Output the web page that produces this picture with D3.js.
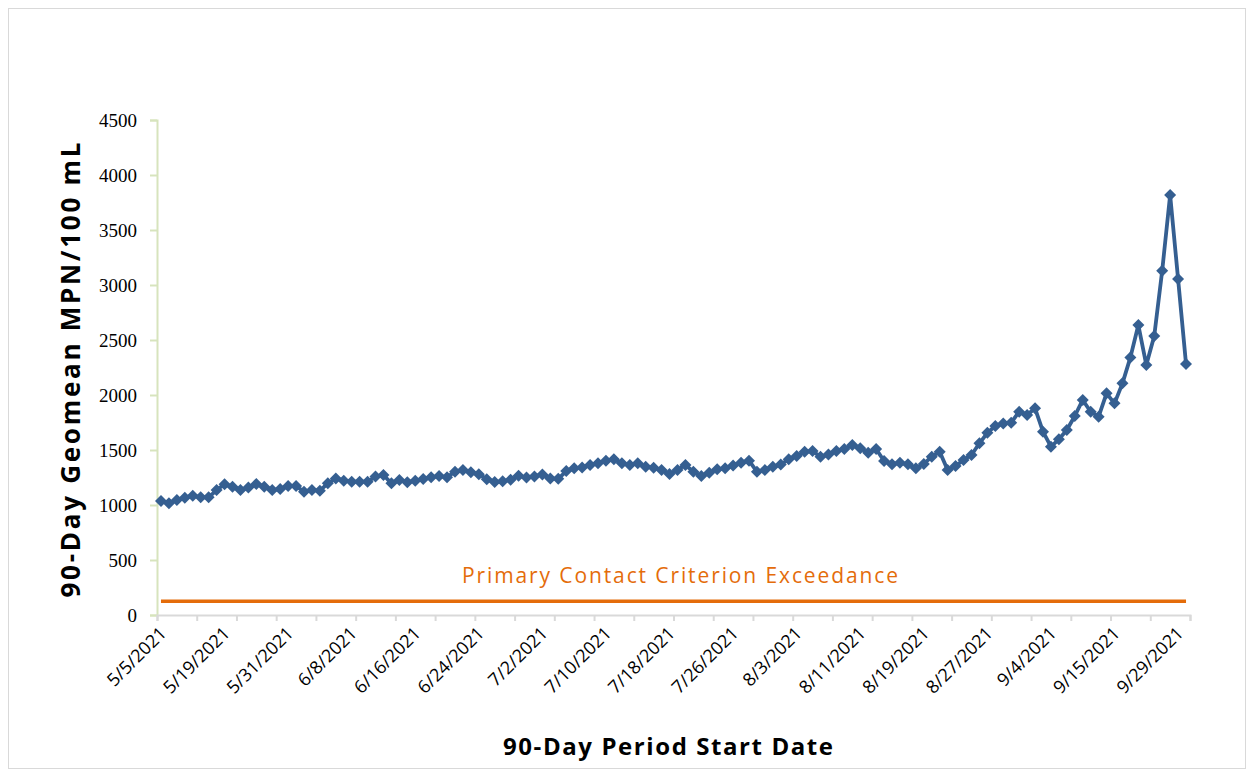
<!DOCTYPE html>
<html>
<head>
<meta charset="utf-8">
<script src="https://cdn.jsdelivr.net/npm/d3@7"></script>
<style>
  body { margin: 0; background: #fff; }
</style>
</head>
<body>
<script>
// category dates (90-day period start dates)
var categories = [
  "5/5/2021","5/6/2021","5/10/2021","5/11/2021","5/12/2021","5/13/2021","5/17/2021","5/18/2021",
  "5/19/2021","5/20/2021","5/21/2021","5/24/2021","5/25/2021","5/26/2021","5/27/2021","5/28/2021",
  "5/31/2021","6/1/2021","6/2/2021","6/3/2021","6/4/2021","6/5/2021","6/6/2021","6/7/2021",
  "6/8/2021","6/9/2021","6/10/2021","6/11/2021","6/12/2021","6/13/2021","6/14/2021","6/15/2021",
  "6/16/2021","6/17/2021","6/18/2021","6/19/2021","6/20/2021","6/21/2021","6/22/2021","6/23/2021",
  "6/24/2021","6/25/2021","6/26/2021","6/27/2021","6/28/2021","6/29/2021","6/30/2021","7/1/2021",
  "7/2/2021","7/3/2021","7/4/2021","7/5/2021","7/6/2021","7/7/2021","7/8/2021","7/9/2021",
  "7/10/2021","7/11/2021","7/12/2021","7/13/2021","7/14/2021","7/15/2021","7/16/2021","7/17/2021",
  "7/18/2021","7/19/2021","7/20/2021","7/21/2021","7/22/2021","7/23/2021","7/24/2021","7/25/2021",
  "7/26/2021","7/27/2021","7/28/2021","7/29/2021","7/30/2021","7/31/2021","8/1/2021","8/2/2021",
  "8/3/2021","8/4/2021","8/5/2021","8/6/2021","8/7/2021","8/8/2021","8/9/2021","8/10/2021",
  "8/11/2021","8/12/2021","8/13/2021","8/14/2021","8/15/2021","8/16/2021","8/17/2021","8/18/2021",
  "8/19/2021","8/20/2021","8/21/2021","8/22/2021","8/23/2021","8/24/2021","8/25/2021","8/26/2021",
  "8/27/2021","8/28/2021","8/29/2021","8/30/2021","8/31/2021","9/1/2021","9/2/2021","9/3/2021",
  "9/4/2021","9/5/2021","9/7/2021","9/8/2021","9/9/2021","9/10/2021","9/13/2021","9/14/2021",
  "9/15/2021","9/16/2021","9/20/2021","9/21/2021","9/22/2021","9/23/2021","9/27/2021","9/28/2021",
  "9/29/2021","9/30/2021"
];

// 90-day geomean, MPN/100 mL
var geomean = [
  1036,1015,1045,1067,1085,1070,1070,1136,1188,1167,1136,1158,1191,1167,1136,1145,
  1173,1173,1121,1136,1130,1197,1242,1221,1212,1212,1212,1258,1273,1197,1227,1206,
  1221,1236,1252,1264,1252,1303,1318,1297,1280,1235,1208,1215,1230,1265,1250,1260,
  1278,1242,1238,1308,1333,1342,1364,1379,1403,1415,1379,1364,1379,1348,1339,1318,
  1282,1318,1364,1303,1264,1294,1324,1333,1358,1385,1403,1303,1318,1348,1368,1416,
  1445,1483,1490,1439,1458,1491,1509,1545,1515,1476,1509,1400,1370,1385,1370,1333,
  1373,1439,1485,1318,1355,1409,1455,1561,1656,1718,1742,1748,1848,1818,1879,1667,
  1530,1597,1682,1809,1955,1848,1803,2015,1924,2106,2342,2636,2273,2536,3130,3818,
  3055,2282
];

var criterion = 126;

var tickLabels = ["5/5/2021","5/19/2021","5/31/2021","6/8/2021","6/16/2021","6/24/2021",
  "7/2/2021","7/10/2021","7/18/2021","7/26/2021","8/3/2021","8/11/2021","8/19/2021",
  "8/27/2021","9/4/2021","9/15/2021","9/29/2021"];

var yTicks = [0,500,1000,1500,2000,2500,3000,3500,4000,4500];

var width = 1253, height = 774;
var plotLeft = 157, plotRight = 1190, plotTop = 120, plotBottom = 615;

var svg = d3.select("body").append("svg")
    .attr("width", width)
    .attr("height", height);

// outer frame
svg.append("rect")
    .attr("x", 8.5).attr("y", 8.5)
    .attr("width", 1237).attr("height", 760)
    .attr("fill", "none")
    .attr("stroke", "#d9d9d9");

var x = d3.scaleBand().domain(categories).range([plotLeft, plotRight]);
var cx = function(d) { return x(d) + x.bandwidth() / 2; };
var y = d3.scaleLinear().domain([0, 4500]).range([plotBottom, plotTop]);

// y axis
var yAxis = svg.append("g")
    .attr("transform", "translate(" + plotLeft + ",0)")
    .call(d3.axisLeft(y).tickValues(yTicks).tickFormat(d3.format("d")).tickSize(7).tickPadding(13));
yAxis.select(".domain").attr("stroke", "#d7e4bd").attr("stroke-width", 2);
yAxis.selectAll(".tick line").attr("stroke", "#d7e4bd").attr("stroke-width", 2);
yAxis.selectAll("text")
    .attr("font-family", "'Liberation Serif', 'Times New Roman', serif")
    .attr("font-size", 19)
    .attr("fill", "#000");

// x axis tick marks, one every 5 categories on the category edges
var xEdge = d3.scaleLinear().domain([0, categories.length]).range([plotLeft, plotRight]);
var xTicks = svg.append("g")
    .attr("transform", "translate(0," + plotBottom + ")")
    .call(d3.axisBottom(xEdge).tickValues(d3.range(0, categories.length + 1, 5)).tickSize(6).tickFormat(""));
xTicks.select(".domain").attr("stroke", "#d9d9d9").attr("stroke-width", 2);
xTicks.selectAll(".tick line").attr("stroke", "#d9d9d9").attr("stroke-width", 2);

// x axis labels
var xLab = svg.append("g")
    .attr("transform", "translate(0," + plotBottom + ")")
    .call(d3.axisBottom(x).tickValues(tickLabels).tickSize(0));
xLab.select(".domain").remove();
xLab.selectAll("text")
    .attr("font-family", "'Open Sans', sans-serif")
    .attr("font-size", 18)
    .attr("fill", "#000")
    .attr("text-anchor", "end")
    .attr("y", 0).attr("dy", "0.35em")
    .attr("transform", "translate(2,15) rotate(-45)");

// criterion line
svg.append("line")
    .attr("x1", cx(categories[0]))
    .attr("x2", cx(categories[categories.length - 1]))
    .attr("y1", y(criterion))
    .attr("y2", y(criterion))
    .attr("stroke", "#e46c0a")
    .attr("stroke-width", 3.5);

svg.append("text")
    .attr("x", 680).attr("y", 583)
    .attr("text-anchor", "middle")
    .attr("font-family", "'Open Sans', sans-serif")
    .attr("font-size", 21)
    .attr("textLength", 436)
    .attr("lengthAdjust", "spacing")
    .attr("fill", "#e46c0a")
    .text("Primary Contact Criterion Exceedance");

// data line
var line = d3.line()
    .x(function(d, i) { return cx(categories[i]); })
    .y(function(d) { return y(d); });

svg.append("path")
    .datum(geomean)
    .attr("fill", "none")
    .attr("stroke", "#355f91")
    .attr("stroke-width", 3.8)
    .attr("stroke-linejoin", "round")
    .attr("d", line);

svg.selectAll(".marker")
    .data(geomean)
    .enter().append("path")
    .attr("class", "marker")
    .attr("d", d3.symbol(d3.symbolSquare, 72))
    .attr("fill", "#355f91")
    .attr("transform", function(d, i) {
        return "translate(" + cx(categories[i]) + "," + y(d) + ") rotate(45)";
    });

// axis titles
svg.append("text")
    .attr("x", 668).attr("y", 755)
    .attr("text-anchor", "middle")
    .attr("font-family", "'Open Sans', sans-serif")
    .attr("font-weight", "bold")
    .attr("font-size", 24)
    .attr("textLength", 330)
    .attr("lengthAdjust", "spacing")
    .attr("fill", "#000")
    .text("90-Day Period Start Date");

svg.append("text")
    .attr("transform", "translate(80,370) rotate(-90)")
    .attr("text-anchor", "middle")
    .attr("font-family", "'Open Sans', sans-serif")
    .attr("font-weight", "bold")
    .attr("font-size", 26)
    .attr("textLength", 455)
    .attr("lengthAdjust", "spacing")
    .attr("fill", "#000")
    .text("90-Day Geomean MPN/100 mL");
</script>
</body>
</html>
